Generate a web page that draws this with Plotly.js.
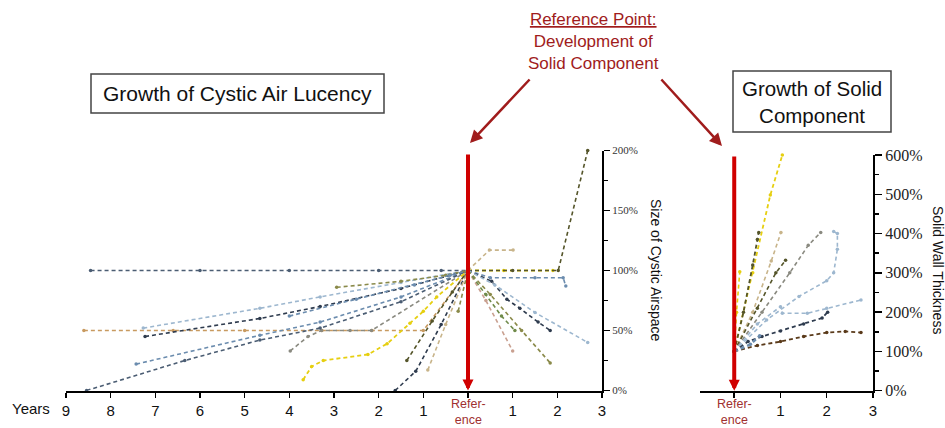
<!DOCTYPE html>
<html><head><meta charset="utf-8">
<script src="https://cdn.plot.ly/plotly-3.0.1.min.js"></script>
<style>html,body{margin:0;padding:0;background:#fff}#chart{width:945px;height:428px}</style>
</head><body><div id="chart"></div>
<script>
// ---------- DATA ----------
// Left panel: size of cystic airspace (% of value at reference), years relative to reference
const yearTicks = [-9,-8,-7,-6,-5,-4,-3,-2,-1,0,1,2,3];
const yearTickText = ["9","8","7","6","5","4","3","2","1","","1","2","3"];
const cystTicks = [0,50,100,150,200];
const cystTickText = ["0%","50%","100%","150%","200%"];

// before reference
const pre1_x = [-8.45,-6,-4,-2,-0.6,0];          const pre1_y = [100,100,100,100,100,100];
const pre2_x = [-8.6,-6.6,-5.0,-3.27,-2.15,-1.0,0]; const pre2_y = [50,50,50,50,50,50,100];
const pre3_x = [-3.98,-3.58,-3.28,-2.64,-2.16,0]; const pre3_y = [33,45,50,50,50,100];
const pre4_x = [-7.27,-4.66,-3.31,-1.5,0];       const pre4_y = [52,68.5,78,90,100];
const pre5_x = [-7.23,-4.66,-3.31,-1.5,0];       const pre5_y = [45,60,70,85,100];
const pre6_x = [-7.43,-4.66,-3.31,-1.5,0];       const pre6_y = [22,46,57,78,100];
const pre7_x = [-8.54,-6.34,-4.66,-3.31,-1.5,0]; const pre7_y = [0,25,42,52,74,100];
const pre8_x = [-2.94,-1.5,-0.5,0];              const pre8_y = [86,91,96,100];
const pre9_x = [-3.69,-3.5,-3.24,-2.24,-1.81,-1.3,-1.0,-0.7,0]; const pre9_y = [9,20,25,30,39,56,66,78,100];
const pre10_x = [-1.63,-1.17,-0.6,0];            const pre10_y = [0,16,55,100];
const pre11_x = [-1.37,-0.8,-0.35,0];            const pre11_y = [25,58,82,100];
const pre12_x = [-0.9,-0.5,0];                   const pre12_y = [17,55,100];
const pre13_x = [-0.22,0];                       const pre13_y = [66,100];
const pre14_x = [-4.0,-2.5,-1.2,-0.4,0];         const pre14_y = [62,76,88,96,100];
// after reference
const post1_x = [0,1.0,2.02,2.68];               const post1_y = [100,100,100,200];
const post2_x = [0,0.8,1.9];                     const post2_y = [100,100,100];
const post3_x = [0,0.48,1.01];                   const post3_y = [100,117,117];
const post4_x = [0,0.5,1.5,2.13,2.19];           const post4_y = [100,94,94,94,87];
const post5_x = [0,0.53,0.87,1.16,1.57,1.84];    const post5_y = [100,91,76,68.5,57,50];
const post6_x = [0,0.6,1.5,2.68];                const post6_y = [100,88,65,40];
const post7_x = [0,0.5,1.2,1.84];                const post7_y = [100,80,50,23];
const post8_x = [0,0.4,1.0];                     const post8_y = [100,75,33];
const post9_x = [0,0.4,0.75,1.05];               const post9_y = [100,80,62,50];

// Right panel: solid wall thickness (% of value at reference)
const solidTicks = [0,1,2,3];
const solidTickText = ["","1","2","3"];
const wallTicks = [0,100,200,300,400,500,600];
const wallTickText = ["0%","100%","200%","300%","400%","500%","600%"];
const sol1_x = [0,0.4,0.78,1.04];                const sol1_y = [100,300,498,600];
const sol2_x = [0,0.05,0.12];                    const sol2_y = [100,200,303];
const sol3_x = [0,0.2,0.4,0.5,0.53];             const sol3_y = [100,200,320,385,403];
const sol4_x = [0,0.4,0.8,1.01];                 const sol4_y = [100,200,330,403];
const sol5_x = [0,0.5,0.9,1.11];                 const sol5_y = [100,210,300,332];
const sol6_x = [0,0.6,1.2,1.6,1.87];             const sol6_y = [100,200,300,370,403];
const sol7_x = [0,0.7,1.4,2.0,2.15,2.23,2.23,2.15]; const sol7_y = [100,180,240,280,300,360,400,405];
const sol8_x = [0,0.5,1.0,1.04,1.58,2.0,2.74];   const sol8_y = [100,170,214,197,197,210,231];
const sol9_x = [0,0.3,0.6,1.0,1.5,1.9,2.02];     const sol9_y = [100,125,138,152,170,185,200];
const sol10_x = [0,0.5,1.0,1.5,2.0,2.4,2.74];    const sol10_y = [100,115,125,138,148,151,148];
const sol11_x = [0,0.35,0.55];                   const sol11_y = [100,118,140];

const refLabel = "Refer-<br>ence";

// ---------- STYLES ----------
const C = {
  navy:"#2e3b4e", slate:"#4b5d73", steel:"#6b8cae", lblue:"#9db7cf",
  olived:"#55552a", olive:"#8a8a4a", tan:"#c8b48a", orange:"#c89a60",
  yellow:"#e6cf10", brown:"#5a3a1a", gray:"#8a8a80", green:"#6f8a4a", rose:"#c9a090"
};
const traces = [];
function add(xs, ys, color, xa, ya, w) {
  traces.push({type:"scatter", mode:"lines+markers", x:xs, y:ys, xaxis:xa, yaxis:ya,
    line:{color:color, width:w||1.6, dash:"4px,3px"}, marker:{size:3.5, color:color},
    hoverinfo:"skip", cliponaxis:false});
}
add(pre1_x,pre1_y,C.slate,"x","y");
add(pre2_x,pre2_y,C.orange,"x","y");
add(pre3_x,pre3_y,C.gray,"x","y");
add(pre4_x,pre4_y,C.lblue,"x","y");
add(pre5_x,pre5_y,C.navy,"x","y");
add(pre6_x,pre6_y,C.steel,"x","y");
add(pre7_x,pre7_y,C.slate,"x","y");
add(pre8_x,pre8_y,C.olive,"x","y");
add(pre9_x,pre9_y,C.yellow,"x","y",1.8);
add(pre10_x,pre10_y,C.navy,"x","y");
add(pre11_x,pre11_y,C.olived,"x","y");
add(pre12_x,pre12_y,C.tan,"x","y");
add(pre13_x,pre13_y,C.olive,"x","y");
add(pre14_x,pre14_y,C.steel,"x","y");
add(post2_x,post2_y,C.yellow,"x","y",1.8);
add(post1_x,post1_y,C.olived,"x","y");
add(post3_x,post3_y,C.tan,"x","y");
add(post4_x,post4_y,C.steel,"x","y");
add(post5_x,post5_y,C.navy,"x","y");
add(post6_x,post6_y,C.lblue,"x","y");
add(post7_x,post7_y,C.olive,"x","y");
add(post8_x,post8_y,C.rose,"x","y");
add(post9_x,post9_y,C.green,"x","y");

add(sol1_x,sol1_y,C.yellow,"x2","y2",1.8);
add(sol2_x,sol2_y,C.yellow,"x2","y2");
add(sol3_x,sol3_y,C.olived,"x2","y2",1.8);
add(sol4_x,sol4_y,C.tan,"x2","y2");
add(sol5_x,sol5_y,C.olived,"x2","y2");
add(sol6_x,sol6_y,C.gray,"x2","y2");
add(sol7_x,sol7_y,C.lblue,"x2","y2");
add(sol8_x,sol8_y,C.lblue,"x2","y2");
add(sol9_x,sol9_y,C.navy,"x2","y2",1.8);
add(sol10_x,sol10_y,C.brown,"x2","y2",1.8);
add(sol11_x,sol11_y,C.steel,"x2","y2",2.5);

const W = 945, H = 428;
const px = v => v / W, py = v => 1 - v / H;
const RED = "#d00000", DRED = "#a01c1c";
const SANS = "Liberation Sans, Arial, sans-serif";
const axFont = {family:SANS, size:15, color:"#111"};
function txt(x, y, text, size, color, extra) {
  return Object.assign({xref:"paper", yref:"paper", x:x, y:y, text:text, showarrow:false,
    xanchor:"center", yanchor:"middle", font:{family:SANS, size:size, color:color}}, extra || {});
}

const layout = {
  width:W, height:H, margin:{l:0,r:0,t:0,b:0}, showlegend:false,
  paper_bgcolor:"#fff", plot_bgcolor:"rgba(0,0,0,0)",
  xaxis:{domain:[px(66),px(602)], range:[-9,3], tickvals:yearTicks, ticktext:yearTickText,
    showgrid:false, zeroline:false, showline:true, linecolor:"#000", linewidth:2,
    ticks:"outside", ticklen:5, tickwidth:1.5, tickcolor:"#000", tickfont:axFont},
  yaxis:{domain:[37.5/H, 277.5/H], range:[0,200], side:"right", anchor:"x",
    tickvals:cystTicks, ticktext:cystTickText, showgrid:false, zeroline:false,
    showline:true, linecolor:"#000", linewidth:2, ticks:"outside", ticklen:6, tickwidth:1.5, tickcolor:"#000",
    minor:{dtick:25, tick0:0, ticks:"outside", ticklen:4, tickwidth:1.5, tickcolor:"#000", showgrid:false},
    tickfont:{family:"Liberation Serif, Times New Roman, serif", size:11, color:"#333"}},
  xaxis2:{domain:[px(700),px(873)], range:[-0.74,3], anchor:"y2", tickvals:solidTicks, ticktext:solidTickText,
    showgrid:false, zeroline:false, showline:true, linecolor:"#000", linewidth:2,
    ticks:"outside", ticklen:5, tickwidth:1.5, tickcolor:"#000", tickfont:axFont},
  yaxis2:{domain:[37.3/H, 273/H], range:[0,600], side:"right", anchor:"x2",
    tickvals:wallTicks, ticktext:wallTickText, showgrid:false, zeroline:false,
    showline:true, linecolor:"#000", linewidth:2, ticks:"outside", ticklen:7, tickwidth:1.5, tickcolor:"#000",
    minor:{dtick:50, tick0:0, ticks:"outside", ticklen:4, tickwidth:1.5, tickcolor:"#000", showgrid:false},
    tickfont:{family:"Liberation Serif, Times New Roman, serif", size:16, color:"#222"}},
  shapes:[
    {type:"rect", xref:"paper", yref:"paper", x0:px(91), x1:px(384), y0:py(113), y1:py(74), line:{color:"#444", width:1.5}},
    {type:"rect", xref:"paper", yref:"paper", x0:px(733), x1:px(891), y0:py(132), y1:py(71), line:{color:"#444", width:1.5}}
  ],
  annotations:[
    txt(px(237.5), py(94), "Growth of Cystic Air Lucency", 21, "#111"),
    txt(px(812), py(101.5), "Growth of Solid<br>Component", 20.5, "#111"),
    txt(px(593), py(42), "<u>Reference Point:</u><br>Development of<br>Solid Component", 17, DRED),
    {xref:"paper", yref:"paper", x:px(470), y:py(143), ax:61, ay:-65, text:"", showarrow:true,
      arrowcolor:DRED, arrowwidth:2.5, arrowhead:2, arrowsize:1},
    {xref:"paper", yref:"paper", x:px(722), y:py(146), ax:-62, ay:-68, text:"", showarrow:true,
      arrowcolor:DRED, arrowwidth:2.5, arrowhead:2, arrowsize:1},
    {xref:"x", yref:"y", x:0, y:0, axref:"x", ayref:"y", ax:0, ay:198, text:"", showarrow:true,
      arrowcolor:RED, arrowwidth:4, arrowhead:2, arrowsize:0.55},
    {xref:"x2", yref:"y2", x:0, y:0, axref:"x2", ayref:"y2", ax:0, ay:600, text:"", showarrow:true,
      arrowcolor:RED, arrowwidth:4, arrowhead:2, arrowsize:0.55},
    txt(0, py(412), refLabel, 12.5, "#a03030", {xref:"x"}),
    txt(0, py(412), refLabel, 12.5, "#a03030", {xref:"x2"}),
    txt(px(31), py(408), "Years", 15, "#111"),
    txt(px(656), py(270), "Size of Cystic Airspace", 14, "#111", {textangle:90}),
    txt(px(938), py(270), "Solid Wall Thickness", 14, "#111", {textangle:90})
  ]
};
Plotly.newPlot("chart", traces, layout, {staticPlot:true, displayModeBar:false});
</script></body></html>
